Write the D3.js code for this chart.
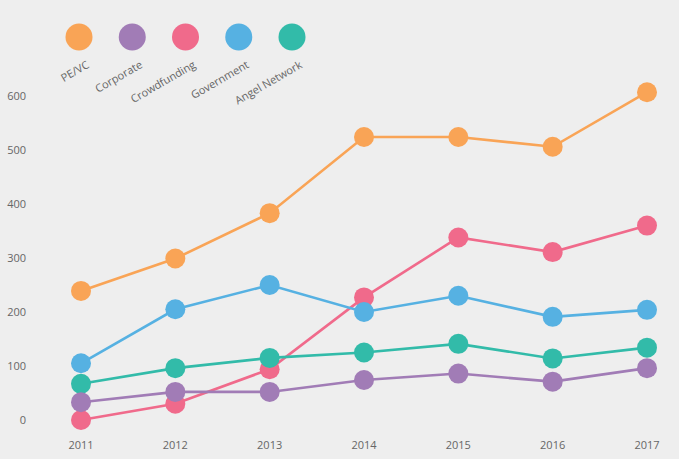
<!DOCTYPE html>
<html><head><meta charset="utf-8">
<script src="https://cdn.jsdelivr.net/npm/d3@7"></script>
<style>html,body{margin:0;padding:0;background:#eeeeee;}svg{display:block;}</style>
</head><body><svg id="chart" width="679" height="459"></svg>
<script>
const years = [2011, 2012, 2013, 2014, 2015, 2016, 2017];
const seriesNames = ["PE/VC", "Corporate", "Crowdfunding", "Government", "Angel Network"];
const seriesColors = ["#F9A456", "#A17CB6", "#F06A8B", "#56B1E2", "#32BBA9"];
const peVC = [239, 299, 383, 524, 524, 506, 607];
const corporate = [33, 52, 52, 74, 86, 71, 96];
const crowdfunding = [0, 30, 94, 227, 338, 311, 360];
const government = [105, 205, 250, 200, 230, 191, 204];
const angelNetwork = [67, 96, 115, 125, 141, 114, 134];
const yTicks = [0, 100, 200, 300, 400, 500, 600];

const values = [peVC, corporate, crowdfunding, government, angelNetwork];
const drawOrder = [0, 2, 3, 4, 1];

const svg = d3.select("#chart");
const x = d3.scalePoint().domain(years).range([81, 647]);
const y = d3.scaleLinear().domain([0, 600]).range([420, 96]);
const font = "'Open Sans', sans-serif";
const textColor = "#666";

// y axis labels
svg.append("g").selectAll("text").data(yTicks).join("text")
  .attr("x", 26).attr("y", d => y(d)).attr("dy", "0.35em")
  .attr("text-anchor", "end").attr("font-family", font).attr("font-size", 11)
  .attr("fill", textColor).text(d => d);

// x axis labels
svg.append("g").selectAll("text").data(years).join("text")
  .attr("x", d => x(d)).attr("y", 445).attr("dy", "0.35em")
  .attr("text-anchor", "middle").attr("font-family", font).attr("font-size", 11)
  .attr("fill", textColor).text(d => d);

const line = d3.line().x((d, i) => x(years[i])).y(d => y(d));

drawOrder.forEach(si => {
  const g = svg.append("g");
  g.append("path").datum(values[si]).attr("d", line)
    .attr("fill", "none").attr("stroke", seriesColors[si]).attr("stroke-width", 2.6);
  g.selectAll("circle").data(values[si]).join("circle")
    .attr("cx", (d, i) => x(years[i])).attr("cy", d => y(d)).attr("r", 10)
    .attr("fill", seriesColors[si]);
});

// legend
const lx = d3.scalePoint().domain(seriesNames).range([79, 292]);
const leg = svg.append("g").selectAll("g").data(seriesNames).join("g")
  .attr("transform", d => `translate(${lx(d)},37)`);
leg.append("circle").attr("r", 13.5).attr("fill", (d, i) => seriesColors[i]);
leg.append("text").attr("transform", "translate(11,30) rotate(-30)")
  .attr("text-anchor", "end").attr("font-family", font).attr("font-size", 11)
  .attr("fill", textColor).text(d => d);
</script></body></html>
